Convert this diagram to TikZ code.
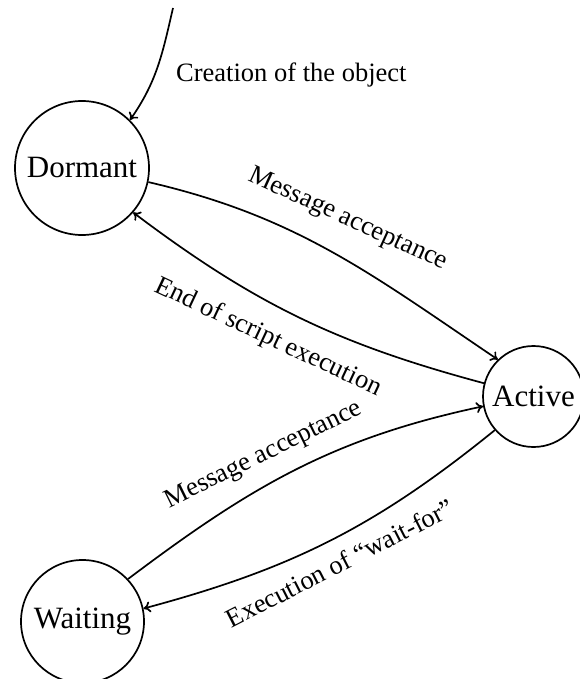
\documentclass[tikz,border=0pt]{standalone}
\usepackage{fontspec}
\setmainfont{Liberation Serif}
\usetikzlibrary{arrows.meta}

\newcommand\statefont{\fontsize{31}{36}\selectfont}
\newcommand\labfont{\fontsize{26.5}{31}\selectfont}

\begin{document}
\begin{tikzpicture}[x=1pt,y=1pt,
  state/.style={circle,draw,line width=1.7pt,inner sep=0pt,font=\statefont},
  edge/.style={line width=1.7pt,-{To[length=7pt,width=11pt]}},
  edgelabel/.style={anchor=base,inner sep=0pt,font=\labfont}
  ]
\useasboundingbox (0,-679) rectangle (579,0);

% states
\node[state,minimum size=134pt] (dormant) at (82,-168)      {Dormant};
\node[state,minimum size=101pt] (active)  at (533.5,-396.5) {Active};
\node[state,minimum size=123pt] (waiting) at (82.5,-621.5)  {Waiting};

% creation of the object
\coordinate (origin) at (173,-8);
\draw[edge] (origin) to[out=257,in=55] (dormant.45);
\node[anchor=base west,font=\labfont,inner sep=0pt] (creation) at (176,-82) {Creation of the object};

% transitions
\draw[edge] (dormant.-12) to[out=-13,in=146] (active.134);
\draw[edge] (active.165)  to[out=165,in=-37] (dormant.-41);
\draw[edge] (waiting.43)  to[out=37,in=192]  (active.191);
\draw[edge] (active.221)  to[out=219,in=15]  (waiting.12);

% transition labels
\node[edgelabel,rotate=-24.5] (accept1) at (345.5,-225) {Message acceptance};
\node[edgelabel,rotate=-25.2] (endexec) at (265.5,-343.5) {End of script execution};
\node[edgelabel,rotate=26.2]  (accept2) at (266.5,-460.5) {Message acceptance};
\node[edgelabel,rotate=27]    (waitfor) at (344,-571) {Execution of “wait-for”};
\end{tikzpicture}
\end{document}
